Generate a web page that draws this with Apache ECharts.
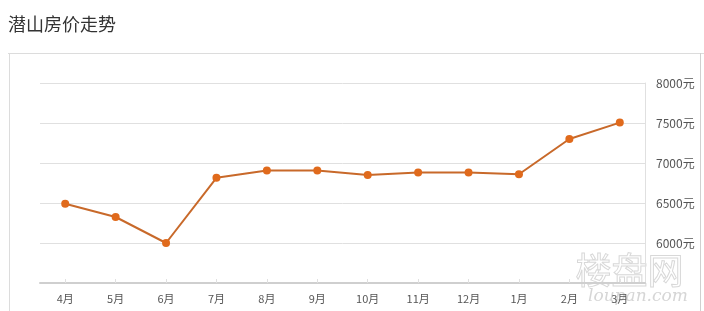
<!DOCTYPE html>
<html><head><meta charset="utf-8">
<script src="https://cdn.jsdelivr.net/npm/echarts@6/dist/echarts.min.js"></script>
<style>html,body{margin:0;padding:0;background:#fff;}#c{width:704px;height:311px;}</style>
</head><body><div id="c"></div>
<script>
const titleText = '潜山房价走势';
const months = ['4月','5月','6月','7月','8月','9月','10月','11月','12月','1月','2月','3月'];
const prices = [6490, 6325, 6000, 6815, 6905, 6905, 6850, 6880, 6880, 6860, 7300, 7505];
const yMin = 5500, yMax = 8000, yStep = 500;

const chart = echarts.init(document.getElementById('c'), null, {renderer:'canvas'});
chart.setOption({
  animation: false,
  backgroundColor: '#fff',
  graphic: [
    {type:'line', shape:{x1:8, y1:53.5, x2:704, y2:53.5}, style:{stroke:'#dcdcdc', lineWidth:1}},
    {type:'line', shape:{x1:9.5, y1:53, x2:9.5, y2:311}, style:{stroke:'#dcdcdc', lineWidth:1}},
    {type:'line', shape:{x1:700.5, y1:53, x2:700.5, y2:311}, style:{stroke:'#d0d0d0', lineWidth:1}},
    {type:'text', left:575, top:252, style:{text:'楼盘网', fill:'rgba(255,255,255,0)', stroke:'#d8d8d8', lineWidth:1, font:'36px "Noto Sans CJK SC"'}},
    {type:'text', left:588, top:288, style:{text:'loupan.com', fill:'#d6d6d6', font:'italic 17px "DejaVu Serif"'}}
  ],
  title: {
    text: titleText, left: 3, top: 10,
    textStyle: {fontSize: 18, fontWeight: 'normal', color: '#333', fontFamily: '"Noto Sans CJK SC"'}
  },
  grid: {left: 40, right: 59, top: 83, bottom: 28},
  xAxis: {
    type: 'category', data: months, boundaryGap: true,
    axisLine: {lineStyle: {color: '#cfcfcf', width: 2}},
    axisTick: {show: true, alignWithLabel: true, inside: true, length: 4, lineStyle: {color: '#e0e0e0'}},
    axisLabel: {color: '#555', fontSize: 11, margin: 10, fontFamily: '"Noto Sans CJK SC"'}
  },
  yAxis: {
    type: 'value', position: 'right', min: yMin, max: yMax, interval: yStep,
    axisLine: {show: true, lineStyle: {color: '#e0e0e0', width: 1}},
    axisTick: {show: false},
    splitLine: {lineStyle: {color: '#e0e0e0', width: 1}},
    axisLabel: {
      color: '#555', fontSize: 12, margin: 11, fontFamily: '"Noto Sans CJK SC"',
      formatter: v => v === yMin ? '' : v + '元'
    }
  },
  series: [{
    type: 'line', data: prices,
    symbol: 'circle', symbolSize: 8,
    lineStyle: {color: '#c8692a', width: 2},
    itemStyle: {color: '#e06a1c'}
  }]
});
</script></body></html>
